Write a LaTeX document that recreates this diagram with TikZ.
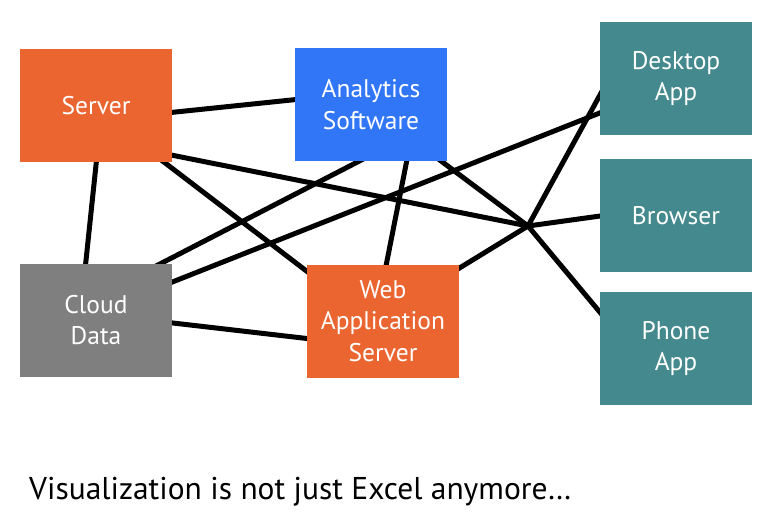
\documentclass[tikz,border=0pt]{standalone}
\usepackage{fontspec}
\setmainfont{PT Sans}
\usetikzlibrary{calc}
\definecolor{orangebox}{HTML}{EB6530}
\definecolor{bluebox}{HTML}{3276F8}
\definecolor{tealbox}{HTML}{43898D}
\definecolor{graybox}{HTML}{7F7F7F}
\begin{document}
\begin{tikzpicture}[x=1pt,y=-1pt,
  box/.style={minimum width=152pt,minimum height=113pt,inner sep=0pt,
    text=white,font=\fontsize{25.5}{31.5}\selectfont,align=center},
  link/.style={line width=5pt,black,line cap=round}]
\useasboundingbox[fill=white] (0,0) rectangle (770,520);
% hub point
\coordinate (hub) at (528,226);
% boxes positions (named nodes drawn later on top)
\path (96,105.5) coordinate (srvc) (371,104.5) coordinate (anac)
      (676,78.5) coordinate (deskc) (676,215.5) coordinate (browc)
      (676,348.5) coordinate (phonec) (96,320) coordinate (cloudc)
      (383,321) coordinate (webc);
% links
\draw[link] ($(srvc)+(70,7.5)$) -- ($(anac)+(-70,-5.5)$);
\draw[link] ($(srvc)+(1,50)$) -- ($(cloudc)+(-11,-50)$);
\draw[link] ($(srvc)+(62,52)$) -- ($(webc)+(-70,-45)$);
\draw[link] ($(srvc)+(70,48.5)$) -- (hub);
\draw[link] ($(anac)+(64,52)$) -- (hub);
\draw[link] ($(anac)+(37,50)$) -- ($(webc)+(2,-50)$);
\draw[link] ($(anac)+(1,50)$) -- ($(cloudc)+(60,-54)$);
\draw[link] ($(cloudc)+(70,-35.5)$) -- ($(deskc)+(-70,32)$);
\draw[link] ($(cloudc)+(70,2.2)$) -- ($(webc)+(-70,18.2)$);
\draw[link] ($(webc)+(70,-49)$) -- (hub);
\draw[link] (hub) -- ($(deskc)+(-70,5.5)$);
\draw[link] (hub) -- ($(browc)+(-70,-0.3)$);
\draw[link] (hub) -- ($(phonec)+(-70,-29)$);
% boxes
\node[box,fill=orangebox] (srv) at (srvc) {Server};
\node[box,fill=bluebox] (ana) at (anac) {Analytics\\Software};
\node[box,fill=tealbox] (desk) at (deskc) {Desktop\\App};
\node[box,fill=tealbox] (brow) at (browc) {Browser};
\node[box,fill=tealbox] (phone) at (phonec) {Phone\\App};
\node[box,fill=graybox] (cloud) at (cloudc) {Cloud\\Data};
\node[box,fill=orangebox] (web) at (webc) {Web\\Application\\Server};
% caption
\node[anchor=base west,inner sep=0pt,font=\fontsize{31.5}{36}\selectfont] (cap) at (29,499) {Visualization is not just Excel anymore…};
\end{tikzpicture}
\end{document}
